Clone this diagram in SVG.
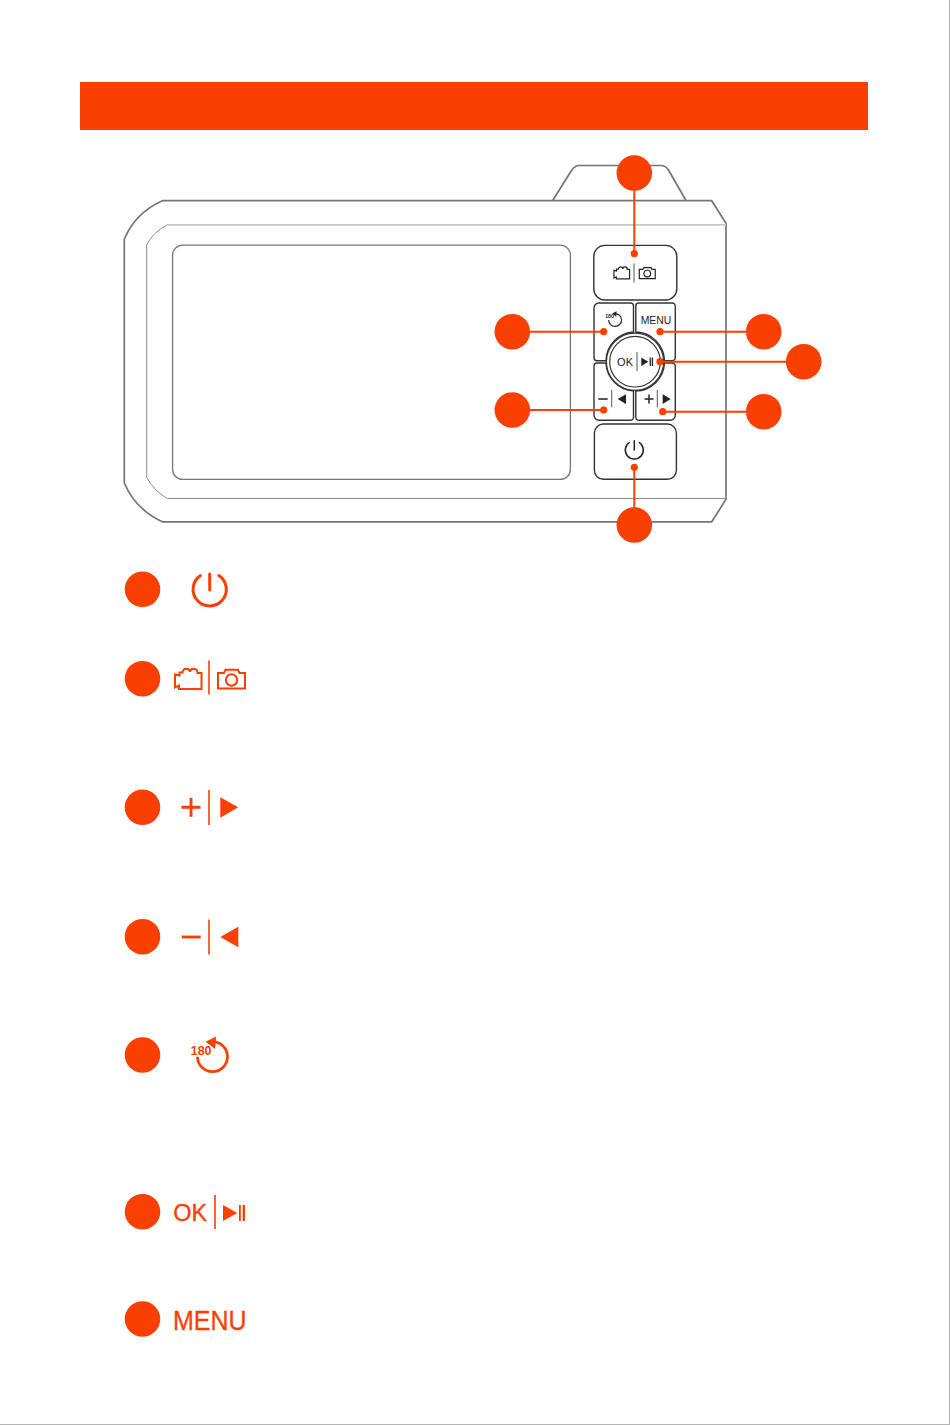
<svg xmlns="http://www.w3.org/2000/svg" width="950" height="1425" viewBox="0 0 950 1425">
<style>
.o{fill:#f94000}
.body{fill:none;stroke:#757575;stroke-width:1.7}
.thin{fill:none;stroke:#8a8a8a;stroke-width:1}
.btn{fill:#fff;stroke:#333;stroke-width:1.4}
.conn{fill:none;stroke:#f94000;stroke-width:2}
.ic{color:#222;fill:#222}
.leg{color:#f94000;fill:#f94000}
.s{fill:none;stroke:currentColor}
.f{fill:currentColor;stroke:none}
.t{font-family:"Liberation Sans",Arial,sans-serif}
</style>
<defs>
<g id="modeIcons" class="s" stroke-width="2" stroke-linejoin="miter">
<path d="M179 689H201.5V673H197.5C197.5 667.5 190.5 667.5 190 672C189.5 667.5 183 667.5 182.5 672.5H179.5V675.5L175 674.5V687.5L179 685.5Z"/>
<path d="M218 673H224L225.5 669.8H238L239.5 673H245V688.5H218Z"/>
<circle cx="231.5" cy="680" r="5.7"/>
</g>
<g id="rotateIcon">
<path class="s" stroke-width="2.7" d="M197.5 1056.7A15 15 0 1 0 212.3 1041.7"/>
<path class="f" d="M205.7 1041.7L216 1036.5L215.2 1049Z"/>
</g>
</defs>

<rect width="950" height="1425" fill="#fff"/>
<path d="M949.5 0V1424.5H0" fill="none" stroke="#b5b5b5" stroke-width="1.2"/>
<rect id="header-bar" x="80" y="82" width="788" height="48" class="o"/>

<g id="device">
<path class="body" d="M552.7 200.5L571.5 170.5Q575 165.5 579 165.5H661Q665.5 165.5 668.5 170L686 200.5"/>
<path class="body" d="M162.3 200.7H711.7L726 223.3V499.3L711.7 521.8H162.3Q135 509 124.3 482.7V239.3Q135 213 162.3 200.7Z"/>
<path d="M167.3 224.9H726" fill="none" stroke="#c8c8c8" stroke-width="1.6"/>
<path class="thin" d="M167.3 224.9Q153 232 146.7 245V477.3Q153 490 167.3 498.5H726"/>
<rect id="screen" x="172.6" y="245.2" width="397.8" height="234.2" rx="10" fill="none" stroke="#777" stroke-width="1.3"/>
</g>

<g id="device-buttons">
<g id="btn-mode">
<rect class="btn" x="593.8" y="245.4" width="83" height="54.6" rx="11"/>
<g class="ic">
<use href="#modeIcons" transform="translate(634 273) scale(.59) translate(-209 -679)"/>
<path d="M634 263.5V282.5" fill="none" stroke="#555" stroke-width="1"/>
</g>
</g>
<g id="btn-rotate">
<path class="btn" d="M606 360.7H597A3 3 0 0 1 594 357.7V308A5 5 0 0 1 599 303H630.5A3 3 0 0 1 633.5 306V332A29.5 29.5 0 0 0 606 360.7Z"/>
<g class="ic">
<use href="#rotateIcon" transform="translate(615 320) scale(.43) translate(-212.3 -1056.7)"/>
<text class="t" x="605.2" y="317.5" font-size="5.2" font-weight="bold" fill="#222">180</text>
</g>
</g>
<g id="btn-menu">
<path class="btn" d="M635.8 332V306A3 3 0 0 1 638.8 303H672.3A3 3 0 0 1 675.3 306V357.7A3 3 0 0 1 672.3 360.7H664.5A29.5 29.5 0 0 0 635.8 332Z"/>
<text class="t" x="640.7" y="323.6" font-size="11.8" fill="#1a1a1a" textLength="30.6" lengthAdjust="spacingAndGlyphs">MENU</text>
</g>
<g id="btn-minus">
<path class="btn" d="M606 363H597A3 3 0 0 0 594 366V415.3A5 5 0 0 0 599 420.3H630.5A3 3 0 0 0 633.5 417.3V391A29.5 29.5 0 0 1 606 363Z"/>
<g class="ic">
<path d="M598.3 399H607.7" fill="none" stroke="#222" stroke-width="1.5"/>
<path d="M611.7 390V407.3" fill="none" stroke="#555" stroke-width="1"/>
<path d="M626 394.3V404L617.7 399Z"/>
</g>
</g>
<g id="btn-plus">
<path class="btn" d="M664.5 363H672.3A3 3 0 0 1 675.3 366V415.3A5 5 0 0 1 670.3 420.3H638.8A3 3 0 0 1 635.8 417.3V391A29.5 29.5 0 0 0 664.5 363Z"/>
<g class="ic">
<path d="M644.5 399H653.5M649 394.5V403.5" fill="none" stroke="#222" stroke-width="1.5"/>
<path d="M657.3 390V407.3" fill="none" stroke="#555" stroke-width="1"/>
<path d="M662.7 394.3V404L670.7 399Z"/>
</g>
</g>
<g id="btn-ok">
<circle cx="635" cy="361.7" r="28.6" fill="#fff" stroke="#333" stroke-width="1.2"/>
<circle cx="635" cy="361.7" r="25.3" fill="#fff" stroke="#333" stroke-width="1.2"/>
<g class="ic">
<text class="t" x="617" y="366" font-size="11" fill="#1a1a1a" textLength="16.2" lengthAdjust="spacing">OK</text>
<path d="M637 352V371" fill="none" stroke="#555" stroke-width="1"/>
<path d="M641.3 357.5V366L648.3 361.7Z"/>
<path d="M649.6 357.5H650.9V366H649.6ZM651.8 357.5H653.1V366H651.8Z"/>
</g>
</g>
<g id="btn-power">
<rect class="btn" x="594.4" y="424" width="82" height="55.3" rx="9"/>
<path d="M629.3 442.5A9 9 0 1 0 639.3 442.5M634.3 440.7V450" fill="none" stroke="#222" stroke-width="1.5" stroke-linecap="round"/>
</g>
</g>

<g id="connectors" class="conn">
<path d="M634.3 173V253.7"/>
<path d="M512.3 331.7H603.7"/>
<path d="M763.7 331.7H660"/>
<path d="M803.7 361.7H660"/>
<path d="M512.3 410H603.7"/>
<path d="M763.7 411.7H662.7"/>
<path d="M634.3 525V467.3"/>
<g class="o" stroke="none">
<circle cx="634.3" cy="253.7" r="3.6"/>
<circle cx="603.7" cy="331.7" r="3.6"/>
<circle cx="660" cy="331.7" r="3.6"/>
<circle cx="660" cy="361.7" r="3.6"/>
<circle cx="603.7" cy="410" r="3.6"/>
<circle cx="662.7" cy="411.7" r="3.6"/>
<circle cx="634.3" cy="467.3" r="3.6"/>
</g>
</g>

<g id="callouts" class="o">
<circle id="callout-mode" cx="634.3" cy="173" r="17.8"/>
<circle id="callout-rotate" cx="512.3" cy="331.7" r="17.8"/>
<circle id="callout-menu" cx="763.7" cy="331.7" r="17.8"/>
<circle id="callout-ok" cx="803.7" cy="361.7" r="17.8"/>
<circle id="callout-minus" cx="512.3" cy="410" r="17.8"/>
<circle id="callout-plus" cx="763.7" cy="411.7" r="17.8"/>
<circle id="callout-power" cx="634.3" cy="525" r="17.8"/>
</g>

<g id="legend-power" class="leg">
<circle cx="142.5" cy="589.3" r="17.8"/>
<path d="M200.5 575.5A16.6 16.6 0 1 0 218.9 575.5M209.7 574V590" fill="none" stroke="#f94000" stroke-width="3" stroke-linecap="round"/>
</g>
<g id="legend-mode" class="leg">
<circle cx="142.5" cy="678.7" r="17.8"/>
<use href="#modeIcons"/>
<path d="M209 660.5V694.5" fill="none" stroke="#f94000" stroke-width="1.6"/>
</g>
<g id="legend-plus" class="leg">
<circle cx="142.5" cy="807.3" r="17.8"/>
<path d="M181.5 807.3H200.5M191 797.8V816.8" fill="none" stroke="#f94000" stroke-width="2.9"/>
<path d="M209 790V825" fill="none" stroke="#f94000" stroke-width="1.6"/>
<path d="M220.3 797.3V817.7L238.3 807.3Z"/>
</g>
<g id="legend-minus" class="leg">
<circle cx="142.5" cy="936.7" r="17.8"/>
<path d="M181.7 937H200.7" fill="none" stroke="#f94000" stroke-width="2.9"/>
<path d="M209 919.5V954.5" fill="none" stroke="#f94000" stroke-width="1.6"/>
<path d="M238.3 926.7V947.3L220.3 937Z"/>
</g>
<g id="legend-rotate" class="leg">
<circle cx="142.5" cy="1055" r="17.8"/>
<use href="#rotateIcon"/>
<text class="t" x="190.8" y="1054.6" font-size="12.4" font-weight="bold" fill="#f94000">180</text>
</g>
<g id="legend-ok" class="leg">
<circle cx="142.5" cy="1211.7" r="17.8"/>
<text class="t" x="173.3" y="1221.3" font-size="23.5" fill="#f94000" stroke="#f94000" stroke-width=".3">OK</text>
<path d="M215 1195V1229" fill="none" stroke="#f94000" stroke-width="1.6"/>
<path d="M223 1205V1221L237.3 1213Z"/>
<path d="M239 1205H240.8V1221H239ZM242.7 1205H245V1221H242.7Z"/>
</g>
<g id="legend-menu" class="leg">
<circle cx="142.5" cy="1319" r="17.8"/>
<text class="t" x="173" y="1329.5" font-size="27" fill="#f94000" stroke="#f94000" stroke-width=".3" textLength="73.5" lengthAdjust="spacingAndGlyphs">MENU</text>
</g>
</svg>
